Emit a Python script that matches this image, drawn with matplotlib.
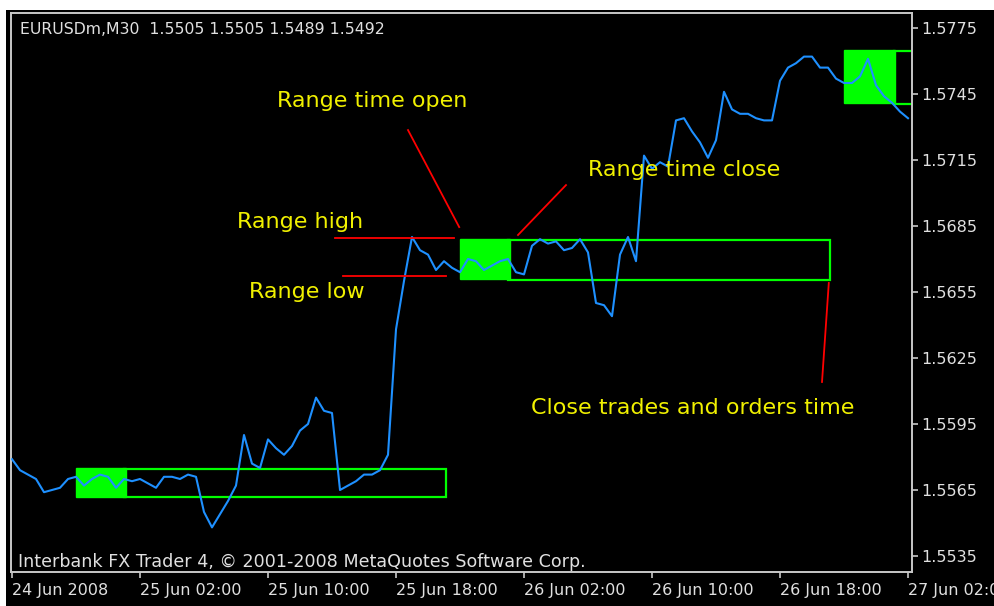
import numpy as np
import matplotlib.pyplot as plt
from matplotlib.patches import Rectangle

# EURUSDm M30 closes, one per bar starting 24 Jun 2008 18:00
closes = [1.5579, 1.5574, 1.5572, 1.5570, 1.5564, 1.5565, 1.5566, 1.5570,
          1.5571, 1.5567, 1.5570, 1.5572, 1.5571, 1.5566, 1.5570, 1.5569,
          1.5570, 1.5568, 1.5566, 1.5571, 1.5571, 1.5570, 1.5572, 1.5571,
          1.5555, 1.5548, 1.5554, 1.5560, 1.5567, 1.5590, 1.5577, 1.5575,
          1.5588, 1.5584, 1.5581, 1.5585, 1.5592, 1.5595, 1.5607, 1.5601,
          1.5600, 1.5565, 1.5567, 1.5569, 1.5572, 1.5572, 1.5574, 1.5581,
          1.5638, 1.5660, 1.5680, 1.5674, 1.5672, 1.5665, 1.5669, 1.5666,
          1.5664, 1.5670, 1.5669, 1.5665, 1.5667, 1.5669, 1.5670, 1.5664,
          1.5663, 1.5676, 1.5679, 1.5677, 1.5678, 1.5674, 1.5675, 1.5679,
          1.5673, 1.5650, 1.5649, 1.5644, 1.5672, 1.5680, 1.5669, 1.5717,
          1.5711, 1.5714, 1.5712, 1.5733, 1.5734, 1.5728, 1.5723, 1.5716,
          1.5724, 1.5746, 1.5738, 1.5736, 1.5736, 1.5734, 1.5733, 1.5733,
          1.5751, 1.5757, 1.5759, 1.5762, 1.5762, 1.5757, 1.5757, 1.5752,
          1.5750, 1.5750, 1.5753, 1.5761, 1.5749, 1.5744, 1.5741, 1.5737,
          1.5734]

# range boxes (bar index units) and levels
range_start = [8, 56, 104]
range_end = [14.25, 62.25, 110.4]
range_high = [1.5575, 1.5679, 1.5765]
range_low = [1.5562, 1.5661, 1.5741]
close_end = [54.25, 102.25, 116]

xtick_pos = [0, 16, 32, 48, 64, 80, 96, 112]
xtick_labels = ['24 Jun 2008', '25 Jun 02:00', '25 Jun 10:00', '25 Jun 18:00',
                '26 Jun 02:00', '26 Jun 10:00', '26 Jun 18:00', '27 Jun 02:00']
ytick_vals = [1.5535, 1.5565, 1.5595, 1.5625, 1.5655, 1.5685, 1.5715, 1.5745, 1.5775]

# red pointer lines: (x0, x1, y0, y1)
pointers = [(40.4, 55.25, 1.56794, 1.56794),
            (41.4, 54.25, 1.56621, 1.56621),
            (49.5, 55.9, 1.57286, 1.56845),
            (69.25, 63.25, 1.57036, 1.56809),
            (102.1, 101.25, 1.56591, 1.56141)]

grey = '#c8c8c8'
yellow = '#f0f000'
W, H = 994, 606

fig = plt.figure(figsize=(9.94, 6.06), dpi=100, facecolor='black')
# thin white margin at top and left, as in the screenshot
fig.patches.append(Rectangle((0, (H - 10) / H), 1, 10 / H, transform=fig.transFigure,
                             facecolor='white', edgecolor='none', zorder=-1))
fig.patches.append(Rectangle((0, 0), 6 / W, 1, transform=fig.transFigure,
                             facecolor='white', edgecolor='none', zorder=-1))
ax = fig.add_axes([11 / W, (H - 571.5) / H, 901 / W, 558.5 / H])
ax.set_facecolor('black')

x = np.arange(len(closes))

for s, e, hi, lo, ce in zip(range_start, range_end, range_high, range_low, close_end):
    ax.add_patch(Rectangle((s, lo), e - s, hi - lo, facecolor='#00ff00',
                           edgecolor='#00ff00', lw=1, zorder=1))
    ax.add_patch(Rectangle((e - 0.2, lo - 0.00004), ce - e + 0.2, hi - lo, fill=False,
                           edgecolor='#00ff00', lw=1.6, zorder=1))

ax.plot(x, closes, color='#1e90ff', lw=1.5, zorder=3)

for x0, x1, y0, y1 in pointers:
    ax.plot([x0, x1], [y0, y1], color='red', lw=1.3, zorder=4)

ax.set_xlim(-0.125, 112.5)
ax.set_ylim(1.552795, 1.578182)

for sp in ax.spines.values():
    sp.set_color(grey)
    sp.set_linewidth(1.4)

ax.yaxis.tick_right()
ax.set_yticks(ytick_vals)
ax.set_yticklabels(['%.4f' % v for v in ytick_vals])
ax.set_xticks(xtick_pos)
ax.set_xticklabels(xtick_labels)
for lab in ax.get_xticklabels():
    lab.set_ha('left')
ax.tick_params(axis='both', colors=grey, labelcolor='#e0e0e0', labelsize=11.5,
               length=4, width=1.2)
ax.tick_params(axis='x', pad=4)
ax.tick_params(axis='y', pad=3)

ax.text(0.01, 0.9696, 'EURUSDm,M30  1.5505 1.5505 1.5489 1.5492', transform=ax.transAxes,
        color='#e0e0e0', fontsize=11.3, va='center', ha='left')
ax.text(0.0078, 0.017, 'Interbank FX Trader 4, \u00a9 2001-2008 MetaQuotes Software Corp.',
        transform=ax.transAxes, color='#e0e0e0', fontsize=12.6, va='center', ha='left')

labels = [('Range time open', 0.2952, 0.8424),
          ('Range time close', 0.6404, 0.7189),
          ('Range high', 0.2508, 0.6258),
          ('Range low', 0.2641, 0.5004),
          ('Close trades and orders time', 0.5771, 0.2927)]
for t, fx, fy in labels:
    ax.text(fx, fy, t, transform=ax.transAxes, color=yellow, fontsize=16,
            va='center', ha='left', zorder=5)

fig.savefig('out.png', dpi=100, facecolor=fig.get_facecolor())
